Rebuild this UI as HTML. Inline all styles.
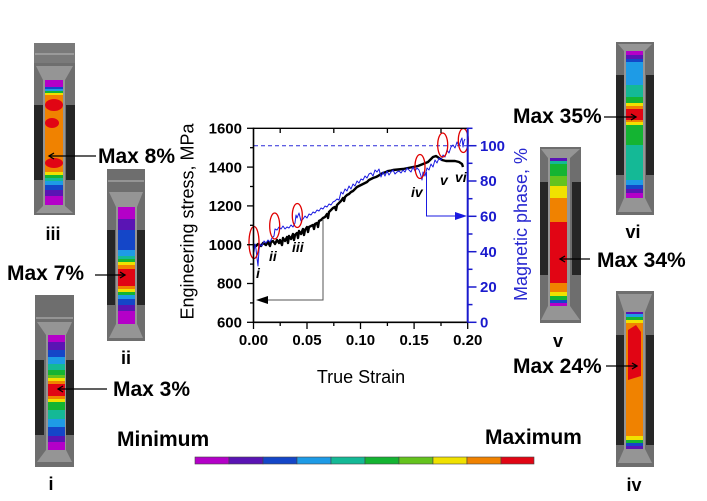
<!DOCTYPE html>
<html><head><meta charset="utf-8"><style>
html,body{margin:0;padding:0;background:#fff;}
svg{display:block;}
text{font-family:"Liberation Sans",Arial,sans-serif;}
</style></head><body>
<svg width="707" height="501" viewBox="0 0 707 501" xmlns="http://www.w3.org/2000/svg">
<rect width="707" height="501" fill="#fff"/>

<!-- ===== Specimen iii ===== -->
<g>
<rect x="34" y="43" width="41" height="172" fill="#6e6e6e"/>
<rect x="34" y="43" width="41" height="20" fill="#7a7a7a"/>
<line x1="35" y1="54" x2="74" y2="54" stroke="#bbb" stroke-width="1"/>
<rect x="34" y="105" width="9" height="75" fill="#262626"/>
<rect x="66" y="105" width="9" height="75" fill="#262626"/>
<polygon points="36,66 73,66 65,80 65,206 73,213 36,213 43,206 43,80" fill="#959595"/>
<rect x="45" y="80" width="18" height="125" fill="#f08200"/>
<rect x="45" y="80" width="18" height="7" fill="#b400c8"/>
<rect x="45" y="87" width="18" height="2" fill="#1446c8"/>
<rect x="45" y="89" width="18" height="2" fill="#1e9be6"/>
<rect x="45" y="91" width="18" height="2" fill="#14b432"/>
<rect x="45" y="93" width="18" height="2" fill="#f0e100"/>
<ellipse cx="54" cy="105" rx="9" ry="6" fill="#e10514"/>
<ellipse cx="52" cy="123" rx="7" ry="5" fill="#e10514"/>
<ellipse cx="54" cy="163" rx="9" ry="5" fill="#e10514"/>
<rect x="45" y="172" width="18" height="3" fill="#f0e100"/>
<rect x="45" y="175" width="18" height="3" fill="#14b432"/>
<rect x="45" y="178" width="18" height="3" fill="#14b996"/>
<rect x="45" y="181" width="18" height="4" fill="#1e9be6"/>
<rect x="45" y="185" width="18" height="5" fill="#1446c8"/>
<rect x="45" y="190" width="18" height="6" fill="#5a14b4"/>
<rect x="45" y="196" width="18" height="9" fill="#b400c8"/>
</g>

<!-- ===== Specimen ii ===== -->
<g>
<rect x="107" y="169" width="38" height="172" fill="#6e6e6e"/>
<line x1="108" y1="181" x2="144" y2="181" stroke="#bbb" stroke-width="1"/>
<rect x="107" y="230" width="8" height="75" fill="#262626"/>
<rect x="137" y="230" width="8" height="75" fill="#262626"/>
<polygon points="109,192 143,192 137,207 137,324 143,338 109,338 116,324 116,207" fill="#959595"/>
<rect x="118" y="207" width="17" height="117" fill="#b400c8"/>
<rect x="118" y="219" width="17" height="11" fill="#5a14b4"/>
<rect x="118" y="230" width="17" height="20" fill="#1446c8"/>
<rect x="118" y="250" width="17" height="6" fill="#1e9be6"/>
<rect x="118" y="256" width="17" height="3" fill="#14b996"/>
<rect x="118" y="259" width="17" height="3" fill="#14b432"/>
<rect x="118" y="262" width="17" height="3" fill="#f0e100"/>
<rect x="118" y="265" width="17" height="4" fill="#f08200"/>
<rect x="118" y="269" width="17" height="17" fill="#e10514"/>
<rect x="118" y="286" width="17" height="3" fill="#f08200"/>
<rect x="118" y="289" width="17" height="3" fill="#f0e100"/>
<rect x="118" y="292" width="17" height="3" fill="#14b432"/>
<rect x="118" y="295" width="17" height="4" fill="#1e9be6"/>
<rect x="118" y="299" width="17" height="6" fill="#1446c8"/>
<rect x="118" y="305" width="17" height="6" fill="#5a14b4"/>
</g>

<!-- ===== Specimen i ===== -->
<g>
<rect x="35" y="295" width="39" height="172" fill="#6e6e6e"/>
<line x1="36" y1="318" x2="73" y2="318" stroke="#bbb" stroke-width="1"/>
<rect x="35" y="360" width="9" height="75" fill="#262626"/>
<rect x="66" y="360" width="8" height="75" fill="#262626"/>
<polygon points="37,322 72,322 66,335 66,450 72,462 37,462 46,450 46,335" fill="#959595"/>
<rect x="48" y="335" width="17" height="7" fill="#b400c8"/>
<rect x="48" y="342" width="17" height="8" fill="#5a14b4"/>
<rect x="48" y="350" width="17" height="7" fill="#1446c8"/>
<rect x="48" y="357" width="17" height="7" fill="#1e9be6"/>
<rect x="48" y="364" width="17" height="6" fill="#14b996"/>
<rect x="48" y="370" width="17" height="5" fill="#14b432"/>
<rect x="48" y="375" width="17" height="3" fill="#64c31e"/>
<rect x="48" y="378" width="17" height="3" fill="#f0e100"/>
<rect x="48" y="381" width="17" height="3" fill="#f08200"/>
<rect x="48" y="384" width="17" height="12" fill="#e10514"/>
<rect x="48" y="396" width="17" height="3" fill="#f08200"/>
<rect x="48" y="399" width="17" height="3" fill="#f0e100"/>
<rect x="48" y="402" width="17" height="8" fill="#14b432"/>
<rect x="48" y="410" width="17" height="9" fill="#14b996"/>
<rect x="48" y="419" width="17" height="8" fill="#1e9be6"/>
<rect x="48" y="427" width="17" height="9" fill="#1446c8"/>
<rect x="48" y="436" width="17" height="6" fill="#5a14b4"/>
<rect x="48" y="442" width="17" height="8" fill="#b400c8"/>
</g>

<!-- ===== Specimen vi ===== -->
<g>
<rect x="616" y="42" width="38" height="173" fill="#6e6e6e"/>
<rect x="616" y="75" width="8" height="100" fill="#262626"/>
<rect x="646" y="75" width="8" height="100" fill="#262626"/>
<polygon points="618,44 652,44 645,51 645,198 652,212 618,212 624,198 624,51" fill="#959595"/>
<rect x="626" y="51" width="17" height="4" fill="#b400c8"/>
<rect x="626" y="55" width="17" height="4" fill="#5a14b4"/>
<rect x="626" y="59" width="17" height="3" fill="#1446c8"/>
<rect x="626" y="62" width="17" height="23" fill="#1e9be6"/>
<rect x="626" y="85" width="17" height="12" fill="#14b996"/>
<rect x="626" y="97" width="17" height="6" fill="#14b432"/>
<rect x="626" y="103" width="17" height="3" fill="#f0e100"/>
<rect x="626" y="106" width="17" height="3" fill="#f08200"/>
<rect x="626" y="109" width="17" height="11" fill="#e10514"/>
<rect x="626" y="120" width="17" height="2" fill="#f08200"/>
<rect x="626" y="122" width="17" height="3" fill="#f0e100"/>
<rect x="626" y="125" width="17" height="20" fill="#14b432"/>
<rect x="626" y="145" width="17" height="35" fill="#14b996"/>
<rect x="626" y="180" width="17" height="5" fill="#1e9be6"/>
<rect x="626" y="185" width="17" height="4" fill="#1446c8"/>
<rect x="626" y="189" width="17" height="4" fill="#5a14b4"/>
<rect x="626" y="193" width="17" height="5" fill="#b400c8"/>
</g>

<!-- ===== Specimen v ===== -->
<g>
<rect x="540" y="147" width="41" height="176" fill="#6e6e6e"/>
<rect x="540" y="182" width="8" height="93" fill="#262626"/>
<rect x="572" y="182" width="9" height="93" fill="#262626"/>
<polygon points="541,149 580,149 570,158 570,306 580,320 541,320 548,306 548,158" fill="#959595"/>
<rect x="550" y="158" width="17" height="3" fill="#5a14b4"/>
<rect x="550" y="161" width="17" height="3" fill="#14b996"/>
<rect x="550" y="164" width="17" height="12" fill="#14b432"/>
<rect x="550" y="176" width="17" height="10" fill="#64c31e"/>
<rect x="550" y="186" width="17" height="12" fill="#f0e100"/>
<rect x="550" y="198" width="17" height="24" fill="#f08200"/>
<rect x="550" y="222" width="17" height="61" fill="#e10514"/>
<rect x="550" y="283" width="17" height="9" fill="#f08200"/>
<rect x="550" y="292" width="17" height="4" fill="#f0e100"/>
<rect x="550" y="296" width="17" height="4" fill="#14b432"/>
<rect x="550" y="300" width="17" height="3" fill="#1446c8"/>
<rect x="550" y="303" width="17" height="3" fill="#b400c8"/>
</g>

<!-- ===== Specimen iv ===== -->
<g>
<rect x="616" y="291" width="38" height="176" fill="#6e6e6e"/>
<rect x="616" y="335" width="8" height="110" fill="#262626"/>
<rect x="646" y="335" width="8" height="110" fill="#262626"/>
<polygon points="618,294 652,294 645,312 645,449 652,463 618,463 624,449 624,312" fill="#959595"/>
<rect x="626" y="312" width="17" height="2" fill="#5a14b4"/>
<rect x="626" y="314" width="17" height="3" fill="#1e9be6"/>
<rect x="626" y="317" width="17" height="3" fill="#14b432"/>
<rect x="626" y="320" width="17" height="3" fill="#f0e100"/>
<rect x="626" y="323" width="17" height="113" fill="#f08200"/>
<polygon points="628,330 636,325 641,332 641,376 628,380" fill="#e10514"/>
<rect x="626" y="436" width="17" height="4" fill="#f0e100"/>
<rect x="626" y="440" width="17" height="3" fill="#14b432"/>
<rect x="626" y="443" width="17" height="3" fill="#1446c8"/>
<rect x="626" y="446" width="17" height="3" fill="#5a14b4"/>
</g>

<!-- ===== Specimen labels ===== -->
<g font-weight="bold" font-size="18" fill="#000" text-anchor="middle">
<text x="53" y="240">iii</text>
<text x="126" y="364">ii</text>
<text x="51" y="490">i</text>
<text x="633" y="238">vi</text>
<text x="558" y="347">v</text>
<text x="634" y="491">iv</text>
</g>

<!-- ===== Max labels ===== -->
<g font-weight="bold" font-size="21" fill="#000">
<text x="98" y="163">Max 8%</text>
<text x="7" y="280">Max 7%</text>
<text x="113" y="396">Max 3%</text>
<text x="513" y="123">Max 35%</text>
<text x="597" y="267">Max 34%</text>
<text x="513" y="373">Max 24%</text>
</g>
<g stroke="#000" stroke-width="1.3" fill="none">
<line x1="96" y1="156" x2="49" y2="156"/><polyline points="54,153 49,156 54,159"/>
<line x1="95" y1="275" x2="125" y2="275"/><polyline points="120,272 125,275 120,278"/>
<line x1="107" y1="389" x2="58" y2="389"/><polyline points="63,386 58,389 63,392"/>
<line x1="604" y1="117" x2="636" y2="117"/><polyline points="631,114 636,117 631,120"/>
<line x1="590" y1="259" x2="560" y2="259"/><polyline points="565,256 560,259 565,262"/>
<line x1="606" y1="366" x2="637" y2="366"/><polyline points="632,363 637,366 632,369"/>
</g>

<!-- ===== Color bar ===== -->
<g font-weight="bold" font-size="21" fill="#000">
<text x="117" y="446">Minimum</text>
<text x="485" y="444">Maximum</text>
</g>
<g stroke="#444" stroke-width="0.6">
<rect x="195" y="457" width="34" height="7" fill="#b400c8"/>
<rect x="229" y="457" width="34" height="7" fill="#5a14b4"/>
<rect x="263" y="457" width="34" height="7" fill="#1446c8"/>
<rect x="297" y="457" width="34" height="7" fill="#1e9be6"/>
<rect x="331" y="457" width="34" height="7" fill="#14b996"/>
<rect x="365" y="457" width="34" height="7" fill="#14b432"/>
<rect x="399" y="457" width="34" height="7" fill="#64c31e"/>
<rect x="433" y="457" width="34" height="7" fill="#f0e100"/>
<rect x="467" y="457" width="34" height="7" fill="#f08200"/>
<rect x="501" y="457" width="33" height="7" fill="#e10514"/>
</g>

<!-- ===== Chart ===== -->
<line x1="254" y1="145.7" x2="467" y2="145.7" stroke="#2a2ad8" stroke-width="1" stroke-dasharray="4,3"/>

<!-- black stress curve -->
<polyline fill="none" stroke="#000" stroke-width="2.4" stroke-linejoin="round" points="253,245 256,246 258,244 261,246 263,243 266,245 268,242 270,246 271,242 273,241 275,244 277,240 279,243 280,240 282,245 283,238 285,241 287,237 288,243 289,236 291,239 293,234 294,240 295,235 297,233 298,238 299,231 301,234 303,229 304,235 305,230 307,227 308,232 309,227 311,226 313,225 314,229 315,224 317,223 318,227 319,221 321,220 323,218 325,217 327,214 328,218 329,212 331,210 333,208 335,207 336,210 337,205 339,203 341,201 343,198 344,201 345,197 347,195 349,194 351,192 353,191 355,189 357,187 359,186 361,185 363,184 365,183 367,182 369,180 371,179 373,178 376,177 378,176 381,174 383,173 386,172 388,171 391,170.5 393,170 398,169.5 403,169 408,168 413,167 418,166 423,164 428,162 431,159 433,157 436,156 439,158 442,160 446,161 450,161 455,161 459,162 462,164 463,167"/>

<!-- blue magnetic curve -->
<polyline fill="none" stroke="#1a1ae0" stroke-width="1" stroke-linejoin="round" points="253,246 254,252 255,244 256,249 257,258 258,266 259,250 260,244 262,246 264,241 266,243 268,240 270,242 272,238 274,236 275,229 277,230 279,227 281,229 283,226 285,229 287,227 289,228 291,225 293,227 295,223 296,215 297,218 299,213 301,221 303,219 305,216 307,218 309,214 311,215 313,212 315,213 317,210 319,211 321,208 323,209 325,206 327,207 329,204 331,205 333,202 335,201 337,199 339,200 341,192 343,194 345,189 347,191 349,186 351,189 353,184 355,186 357,181 359,183 361,179 363,180 365,176 367,178 369,174 371,173 373,176 375,170 377,172 379,169 381,177 383,172 385,176 387,171 389,175 391,172 393,170 395,174 397,172 399,171 401,173 403,170 405,172 407,168 409,170 411,172 413,167 415,171 417,168 419,170 421,176 422,180 423,172 425,176 427,168 429,170 431,164 433,167 435,160 437,163 439,158 441,160 443,155 445,157 447,150 449,153 451,147 453,145 455,148 457,142 459,146 461,140 462,138 463,147 464,141 465,139"/>

<!-- red ellipses -->
<g fill="none" stroke="#e00000" stroke-width="1.3">
<ellipse cx="254" cy="242.5" rx="5" ry="16"/>
<ellipse cx="274.7" cy="226" rx="5" ry="13"/>
<ellipse cx="297.3" cy="215.5" rx="5" ry="12"/>
<ellipse cx="420" cy="166.5" rx="5" ry="12"/>
<ellipse cx="442.7" cy="145" rx="5" ry="12"/>
<ellipse cx="463.3" cy="140.5" rx="5" ry="12"/>
</g>

<g font-weight="bold" font-style="italic" font-size="14" fill="#000">
<text x="256" y="278">i</text>
<text x="269" y="261">ii</text>
<text x="292" y="252">iii</text>
<text x="411" y="197">iv</text>
<text x="440" y="185">v</text>
<text x="455" y="182">vi</text>
</g>

<polyline points="323,219 323,300 265,300" fill="none" stroke="#555" stroke-width="1"/>
<polygon points="256,300 268,296 268,304" fill="#000"/>
<polyline points="426.5,172 426.5,216 456,216" fill="none" stroke="#1a1ae0" stroke-width="1"/>
<polygon points="467,216 455,212 455,220" fill="#1a1ae0"/>

<!-- axes -->
<line x1="253.5" y1="128.3" x2="467.7" y2="128.3" stroke="#000" stroke-width="1.3"/>
<line x1="253.5" y1="127.6" x2="253.5" y2="323" stroke="#000" stroke-width="1.6"/>
<line x1="252.8" y1="322.3" x2="467.7" y2="322.3" stroke="#000" stroke-width="1.6"/>
<line x1="467.7" y1="127.6" x2="467.7" y2="323" stroke="#1a1acd" stroke-width="2"/>

<g stroke="#000" stroke-width="1.3">
<line x1="247" y1="322.3" x2="253.5" y2="322.3"/>
<line x1="247" y1="283.5" x2="253.5" y2="283.5"/>
<line x1="247" y1="244.7" x2="253.5" y2="244.7"/>
<line x1="247" y1="205.9" x2="253.5" y2="205.9"/>
<line x1="247" y1="167.1" x2="253.5" y2="167.1"/>
<line x1="247" y1="128.3" x2="253.5" y2="128.3"/>
<line x1="250" y1="302.9" x2="253.5" y2="302.9"/>
<line x1="250" y1="264.1" x2="253.5" y2="264.1"/>
<line x1="250" y1="225.3" x2="253.5" y2="225.3"/>
<line x1="250" y1="186.5" x2="253.5" y2="186.5"/>
<line x1="250" y1="147.7" x2="253.5" y2="147.7"/>
</g>
<g stroke="#000" stroke-width="1.3">
<line x1="253.5" y1="322.3" x2="253.5" y2="329"/>
<line x1="307" y1="322.3" x2="307" y2="329"/>
<line x1="360.5" y1="322.3" x2="360.5" y2="329"/>
<line x1="414.1" y1="322.3" x2="414.1" y2="329"/>
<line x1="467.7" y1="322.3" x2="467.7" y2="329"/>
<line x1="280.2" y1="322.3" x2="280.2" y2="326"/>
<line x1="333.8" y1="322.3" x2="333.8" y2="326"/>
<line x1="387.4" y1="322.3" x2="387.4" y2="326"/>
<line x1="441" y1="322.3" x2="441" y2="326"/>
<line x1="280.2" y1="128.3" x2="280.2" y2="133"/>
<line x1="333.8" y1="128.3" x2="333.8" y2="133"/>
<line x1="387.4" y1="128.3" x2="387.4" y2="133"/>
<line x1="441" y1="128.3" x2="441" y2="133"/>
</g>
<g stroke="#1a1acd" stroke-width="1.5">
<line x1="467.7" y1="322.3" x2="476.5" y2="322.3"/>
<line x1="467.7" y1="287" x2="476.5" y2="287"/>
<line x1="467.7" y1="251.7" x2="476.5" y2="251.7"/>
<line x1="467.7" y1="216.3" x2="476.5" y2="216.3"/>
<line x1="467.7" y1="181" x2="476.5" y2="181"/>
<line x1="467.7" y1="145.7" x2="476.5" y2="145.7"/>
<line x1="467.7" y1="304.6" x2="472.5" y2="304.6"/>
<line x1="467.7" y1="269.3" x2="472.5" y2="269.3"/>
<line x1="467.7" y1="234" x2="472.5" y2="234"/>
<line x1="467.7" y1="198.7" x2="472.5" y2="198.7"/>
<line x1="467.7" y1="163.3" x2="472.5" y2="163.3"/>
<line x1="467.7" y1="128.3" x2="472.5" y2="128.3"/>
</g>

<g font-weight="bold" font-size="15" fill="#000" text-anchor="end">
<text x="242" y="327.5">600</text>
<text x="242" y="288.7">800</text>
<text x="242" y="249.9">1000</text>
<text x="242" y="211.1">1200</text>
<text x="242" y="172.3">1400</text>
<text x="242" y="133.5">1600</text>
</g>
<g font-weight="bold" font-size="15" fill="#000" text-anchor="middle">
<text x="253.5" y="345">0.00</text>
<text x="307" y="345">0.05</text>
<text x="360.5" y="345">0.10</text>
<text x="414.1" y="345">0.15</text>
<text x="467.7" y="345">0.20</text>
</g>
<g font-weight="bold" font-size="15" fill="#1a1acd">
<text x="480" y="327.5">0</text>
<text x="480" y="292.2">20</text>
<text x="480" y="256.9">40</text>
<text x="480" y="221.5">60</text>
<text x="480" y="186.2">80</text>
<text x="480" y="150.9">100</text>
</g>

<text x="361" y="383" font-size="18" text-anchor="middle" fill="#000">True Strain</text>
<text transform="translate(193.5,221.5) rotate(-90)" font-size="18" text-anchor="middle" fill="#000">Engineering stress, MPa</text>
<text transform="translate(527,224.5) rotate(-90)" font-size="18" text-anchor="middle" fill="#2828d0">Magnetic phase, %</text>
</svg>
</body></html>
